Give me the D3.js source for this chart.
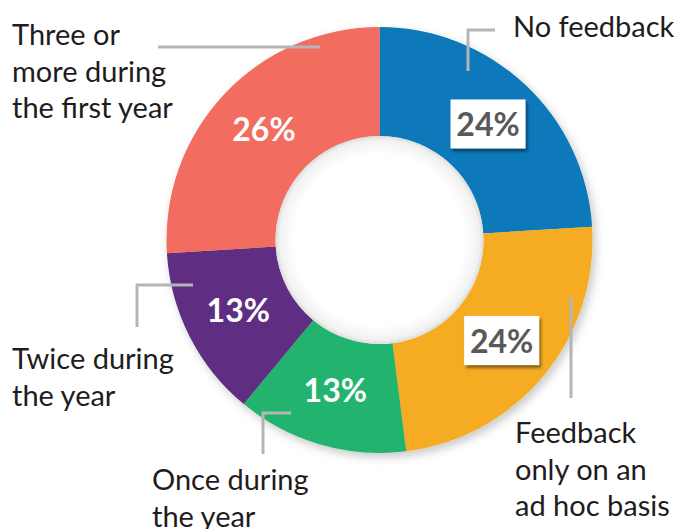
<!DOCTYPE html>
<html><head><meta charset="utf-8">
<script src="https://cdn.jsdelivr.net/npm/d3@7"></script>
<style>body{margin:0;background:#fff}svg{display:block}</style>
</head><body>
<svg id="c" width="678" height="529"></svg>
<script>
const categories = ["No feedback", "Feedback only on an ad hoc basis", "Once during the year", "Twice during the year", "Three or more during the first year"];
const values = [24, 24, 13, 13, 26];
const labelLines = [["No feedback"], ["Feedback", "only on an", "ad hoc basis"], ["Once during", "the year"], ["Twice during", "the year"], ["Three or", "more during", "the first year"]];
const colors = ["#0779BA", "#F5AB21", "#21B46E", "#5E2D83", "#F26C5F"];
const boxed = [true, true, false, false, false];

// layout (positions kept separate from data)
const cx = 379.5, cy = 240, rOuter = 213, rInner = 104;
const labelPos = [
  {x: 513, y: 37},
  {x: 515, y: 443},
  {x: 152, y: 490},
  {x: 12, y: 369},
  {x: 12, y: 45}
];
const leaders = [
  [[495, 30], [468, 30], [468, 71]],
  [[571, 297], [571, 398]],
  [[291, 413], [263, 413], [263, 454]],
  [[193, 285], [137, 285], [137, 327]],
  [[320, 47], [158, 47]]
];
const lineH = 36.5;

const svg = d3.select("#c");
const defs = svg.append("defs");
const f = defs.append("filter").attr("id", "sh").attr("x", "-20%").attr("y", "-20%").attr("width", "140%").attr("height", "140%");
f.append("feDropShadow").attr("dx", 3).attr("dy", 4).attr("stdDeviation", 5).attr("flood-color", "#000").attr("flood-opacity", 0.22);
const fb = defs.append("filter").attr("id", "bsh").attr("x", "-20%").attr("y", "-20%").attr("width", "150%").attr("height", "150%");
fb.append("feDropShadow").attr("dx", 2).attr("dy", 3).attr("stdDeviation", 1.5).attr("flood-color", "#000").attr("flood-opacity", 0.45);
const rg = defs.append("radialGradient").attr("id", "hole");
rg.append("stop").attr("offset", "0.82").attr("stop-color", "#fff");
rg.append("stop").attr("offset", "0.96").attr("stop-color", "#f1f1f1");
rg.append("stop").attr("offset", "1").attr("stop-color", "#dcdcdc");

const pie = d3.pie().sort(null).value(d => d).startAngle(0).endAngle(2 * Math.PI);
const arcs = pie(values);
const arc = d3.arc().innerRadius(rInner).outerRadius(rOuter);

const g = svg.append("g").attr("transform", `translate(${cx},${cy})`);
g.append("g").attr("filter", "url(#sh)")
  .selectAll("path").data(arcs).join("path")
  .attr("d", arc).attr("fill", (d, i) => colors[i]);
g.append("circle").attr("r", rInner).attr("fill", "url(#hole)");

// leader lines
svg.append("g").selectAll("polyline").data(leaders).join("polyline")
  .attr("points", d => d.map(p => p.join(",")).join(" "))
  .attr("fill", "none").attr("stroke", "#b5b5b5").attr("stroke-width", 3);

// percent labels
const pl = g.append("g").selectAll("g").data(arcs).join("g")
  .attr("transform", d => `translate(${arc.centroid(d)})`);
pl.filter((d, i) => boxed[i]).append("rect")
  .attr("x", -37.5).attr("y", -25).attr("width", 75).attr("height", 49)
  .attr("fill", "#fff").attr("filter", "url(#bsh)");
pl.append("text")
  .attr("text-anchor", "middle").attr("y", (d, i) => boxed[i] ? 12 : 10)
  .attr("font-family", "Lato, sans-serif").attr("font-weight", 700).attr("font-size", 32)
  .attr("fill", (d, i) => boxed[i] ? "#595959" : "#fff")
  .text(d => d.data + "%");

// category labels
const cl = svg.append("g").selectAll("text").data(labelLines).join("text")
  .attr("font-family", "Lato, sans-serif").attr("font-size", 29).attr("fill", "#1f1c1d")
  .attr("x", (d, i) => labelPos[i].x).attr("y", (d, i) => labelPos[i].y);
cl.each(function(lines, i) {
  d3.select(this).selectAll("tspan").data(lines).join("tspan")
    .attr("x", labelPos[i].x).attr("y", (l, j) => labelPos[i].y + j * lineH).text(l => l);
});
</script>
</body></html>
